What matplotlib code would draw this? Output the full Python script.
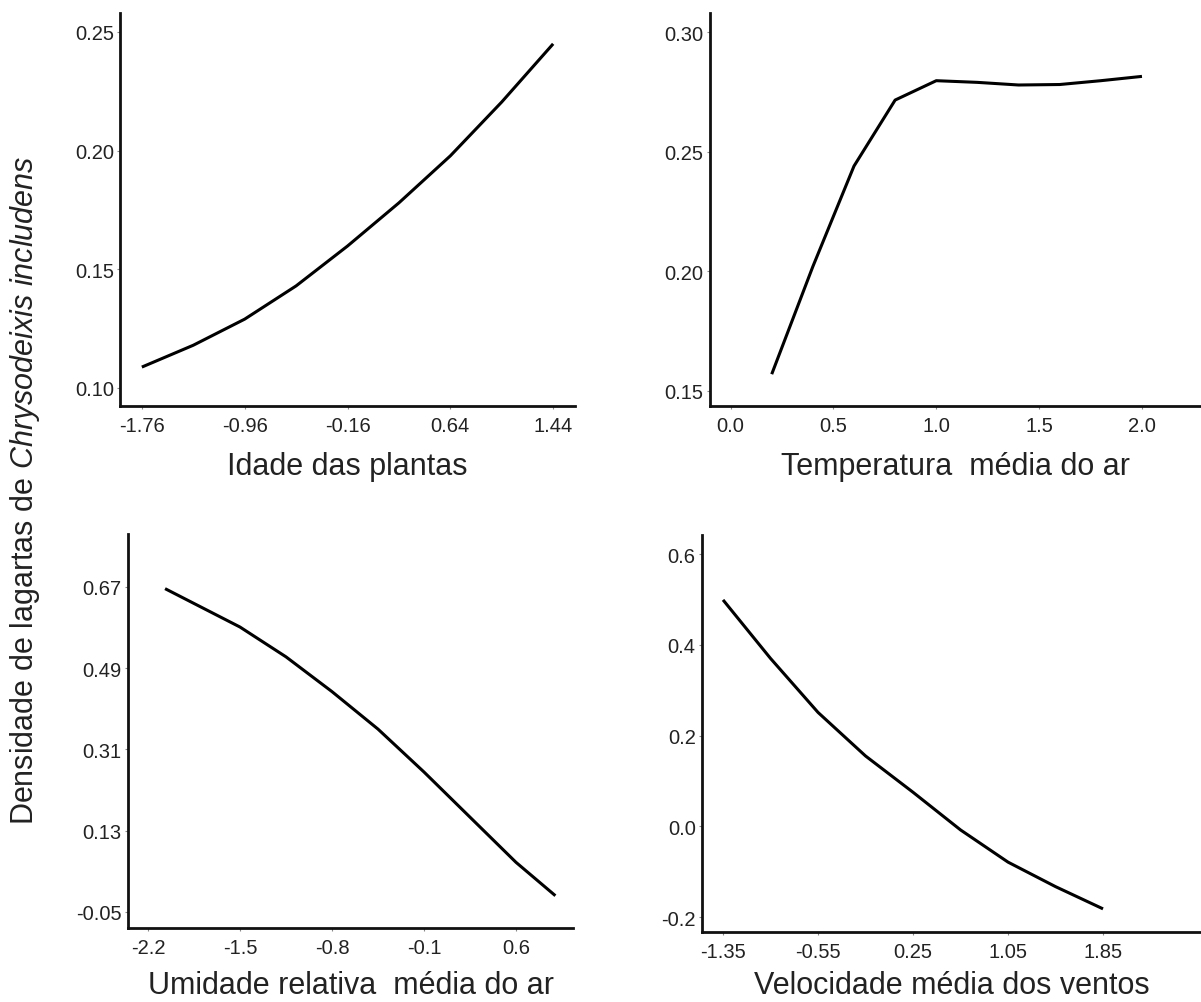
import matplotlib
matplotlib.use("Agg")
import matplotlib.pyplot as plt

plt.rcParams['font.family'] = ['Liberation Sans', 'DejaVu Sans']
plt.rcParams['mathtext.fontset'] = 'custom'
plt.rcParams['mathtext.rm'] = 'Liberation Sans'
plt.rcParams['mathtext.it'] = 'Liberation Sans:italic'

# Panel 1: Idade das plantas
idade_x = [-1.76, -1.36, -0.96, -0.56, -0.16, 0.24, 0.64, 1.04, 1.44]
idade_y = [0.1088, 0.1180, 0.1290, 0.1430, 0.1598, 0.1780, 0.1978, 0.2205, 0.2450]
idade_ticks = [-1.76, -0.96, -0.16, 0.64, 1.44]
idade_yticks = [0.10, 0.15, 0.20, 0.25]

# Panel 2: Temperatura média do ar
temp_x = [0.2, 0.4, 0.6, 0.8, 1.0, 1.2, 1.4, 1.6, 1.8, 2.0]
temp_y = [0.157, 0.202, 0.244, 0.2716, 0.2797, 0.2790, 0.2779, 0.2781, 0.2797, 0.2815]
temp_ticks = [0.0, 0.5, 1.0, 1.5, 2.0]
temp_yticks = [0.15, 0.20, 0.25, 0.30]

# Panel 3: Umidade relativa média do ar
umid_x = [-2.07, -1.5, -1.15, -0.8, -0.45, -0.1, 0.25, 0.6, 0.9]
umid_y = [0.666, 0.581, 0.515, 0.438, 0.355, 0.260, 0.160, 0.060, -0.014]
umid_ticks = [-2.2, -1.5, -0.8, -0.1, 0.6]
umid_yticks = [-0.05, 0.13, 0.31, 0.49, 0.67]

# Panel 4: Velocidade média dos ventos
vent_x = [-1.35, -0.95, -0.55, -0.15, 0.25, 0.65, 1.05, 1.45, 1.85]
vent_y = [0.499, 0.370, 0.251, 0.155, 0.075, -0.008, -0.079, -0.133, -0.182]
vent_ticks = [-1.35, -0.55, 0.25, 1.05, 1.85]
vent_yticks = [-0.2, 0.0, 0.2, 0.4, 0.6]

W, H = 1201, 1003
fig = plt.figure(figsize=(W / 100, H / 100), dpi=100)

def box(l, r, t, b):
    return [l / W, 1 - b / H, (r - l) / W, (b - t) / H]

panels = [
    dict(pos=box(120, 575, 14, 407), x=idade_x, y=idade_y, xt=idade_ticks,
         xtl=['-1.76', '-0.96', '-0.16', '0.64', '1.44'], yt=idade_yticks,
         ytl=['0.10', '0.15', '0.20', '0.25'], xlim=(-1.93, 1.61), ylim=(0.0924, 0.258),
         label='Idade das plantas', lp=11),
    dict(pos=box(710, 1201, 14, 407), x=temp_x, y=temp_y, xt=temp_ticks,
         xtl=['0.0', '0.5', '1.0', '1.5', '2.0'], yt=temp_yticks,
         ytl=['0.15', '0.20', '0.25', '0.30'], xlim=(-0.10, 2.287), ylim=(0.1437, 0.308),
         label='Temperatura  média do ar', lp=11),
    dict(pos=box(128, 573, 535, 929), x=umid_x, y=umid_y, xt=umid_ticks,
         xtl=['-2.2', '-1.5', '-0.8', '-0.1', '0.6'], yt=umid_yticks,
         ytl=['-0.05', '0.13', '0.31', '0.49', '0.67'], xlim=(-2.352, 1.034), ylim=(-0.0855, 0.787),
         label='Umidade relativa  média do ar', lp=9),
    dict(pos=box(702, 1201, 536, 933), x=vent_x, y=vent_y, xt=vent_ticks,
         xtl=['-1.35', '-0.55', '0.25', '1.05', '1.85'], yt=vent_yticks,
         ytl=['-0.2', '0.0', '0.2', '0.4', '0.6'], xlim=(-1.527, 2.675), ylim=(-0.233, 0.642),
         label='Velocidade média dos ventos', lp=6),
]

for p in panels:
    ax = fig.add_axes(p['pos'])
    ax.plot(p['x'], p['y'], color='black', lw=2.2, solid_capstyle='butt',
            solid_joinstyle='round')
    ax.set_xlim(*p['xlim'])
    ax.set_ylim(*p['ylim'])
    ax.set_xticks(p['xt'])
    ax.set_xticklabels(p['xtl'])
    ax.set_yticks(p['yt'])
    ax.set_yticklabels(p['ytl'])
    for s in ['top', 'right']:
        ax.spines[s].set_visible(False)
    for s in ['left', 'bottom']:
        ax.spines[s].set_linewidth(2.0)
        ax.spines[s].set_color('#111111')
    ax.tick_params(axis='both', length=2.5, width=0.8, color='#888888',
                   labelsize=14.5, labelcolor='#222222')
    ax.tick_params(axis='x', pad=5)
    ax.tick_params(axis='y', pad=2)
    ax.set_xlabel(p['label'], fontsize=22, color='#222222', labelpad=p['lp'])

fig.text(25 / W, 1 - 490 / H,
         r'Densidade de lagartas de $\mathit{Chrysodeixis\ includens}$',
         rotation=90, ha='center', va='center', fontsize=22, color='#222222')

fig.savefig('out.png', dpi=100)
